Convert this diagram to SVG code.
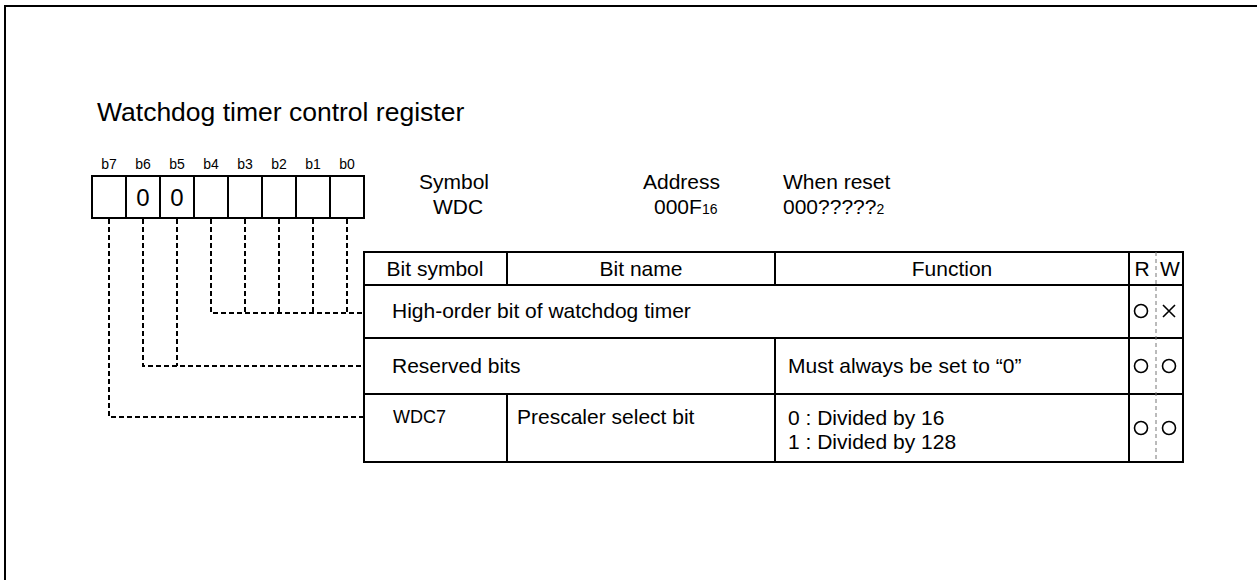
<svg xmlns="http://www.w3.org/2000/svg" width="1257" height="580" viewBox="0 0 1257 580">
<style>
text{font-family:"Liberation Sans",Arial,sans-serif;fill:#000}
.t21{font-size:21px}
.lbl{font-size:14px;text-anchor:middle}
.zero{font-size:24px;text-anchor:middle}
.mid{text-anchor:middle}
.box{fill:#fff;stroke:#000;stroke-width:2}
.ln{stroke:#000;stroke-width:2;fill:none}
.dash{stroke:#000;stroke-width:2;fill:none;stroke-dasharray:5,3}
.gdash{stroke:#777;stroke-width:1;stroke-dasharray:4,3}
.sym{stroke:#000;stroke-width:1.6;fill:none}
</style>
<g id="frame">
<path d="M5,580 V6 H1257" class="ln" stroke="#222" stroke-width="2.5"/>
</g>
<g id="title">
<text x="97" y="121" font-size="26.5">Watchdog timer control register</text>
</g>
<g id="connectors">
<path class="dash" d="M211,219 V313 H363"/>
<path class="dash" d="M245,219 V313"/>
<path class="dash" d="M279,219 V313"/>
<path class="dash" d="M313,219 V313"/>
<path class="dash" d="M347,219 V313"/>
<path class="dash" d="M143,219 V366 H363"/>
<path class="dash" d="M177,219 V366"/>
<path class="dash" d="M109,219 V417 H363"/>
</g>
<g id="register">
<text class="lbl" x="109" y="169">b7</text>
<text class="lbl" x="143" y="169">b6</text>
<text class="lbl" x="177" y="169">b5</text>
<text class="lbl" x="211" y="169">b4</text>
<text class="lbl" x="245" y="169">b3</text>
<text class="lbl" x="279" y="169">b2</text>
<text class="lbl" x="313" y="169">b1</text>
<text class="lbl" x="347" y="169">b0</text>
<rect class="box" x="92" y="176" width="272" height="42"/>
<path class="ln" d="M126,176V218M160,176V218M194,176V218M228,176V218M262,176V218M296,176V218M330,176V218"/>
<text class="zero" x="143" y="206">0</text>
<text class="zero" x="177" y="206">0</text>
</g>
<g id="info">
<text class="t21" x="419" y="189">Symbol</text>
<text class="t21" x="433" y="214">WDC</text>
<text class="t21" x="643" y="189">Address</text>
<text class="t21" x="654" y="214">000F<tspan font-size="14">16</tspan></text>
<text class="t21" x="783" y="189">When reset</text>
<text class="t21" x="783" y="214">000?????<tspan font-size="14">2</tspan></text>
</g>
<g id="table">
<rect class="box" x="364" y="252" width="819" height="210"/>
<path class="ln" d="M364,285H1183M364,338H1183M364,394H1183"/>
<path class="ln" d="M507,252V285M507,394V462M775,252V285M775,338V462M1129,252V462"/>
<line class="gdash" x1="1156" y1="252" x2="1156" y2="462"/>
<text class="t21 mid" x="435" y="276">Bit symbol</text>
<text class="t21 mid" x="641" y="276">Bit name</text>
<text class="t21 mid" x="952" y="276">Function</text>
<text class="t21 mid" x="1142" y="276">R</text>
<text class="t21 mid" x="1170" y="276">W</text>
</g>
<g id="row-b4-b0">
<text class="t21" x="392" y="318">High-order bit of watchdog timer</text>
<circle class="sym" cx="1141" cy="311" r="6.5"/>
<path class="sym" d="M1163,305L1175,317M1175,305L1163,317" stroke-width="2.4"/>
</g>
<g id="row-reserved">
<text class="t21" x="392" y="373">Reserved bits</text>
<text class="t21" x="788" y="373">Must always be set to “0”</text>
<circle class="sym" cx="1141" cy="366" r="6.5"/>
<circle class="sym" cx="1169" cy="366" r="6.5"/>
</g>
<g id="row-wdc7">
<text x="393" y="423" font-size="18">WDC7</text>
<text class="t21" x="517" y="424">Prescaler select bit</text>
<text class="t21" x="788" y="425">0 : Divided by 16</text>
<text class="t21" x="788" y="449">1 : Divided by 128</text>
<circle class="sym" cx="1141" cy="428" r="6.5"/>
<circle class="sym" cx="1169" cy="428" r="6.5"/>
</g>
</svg>
